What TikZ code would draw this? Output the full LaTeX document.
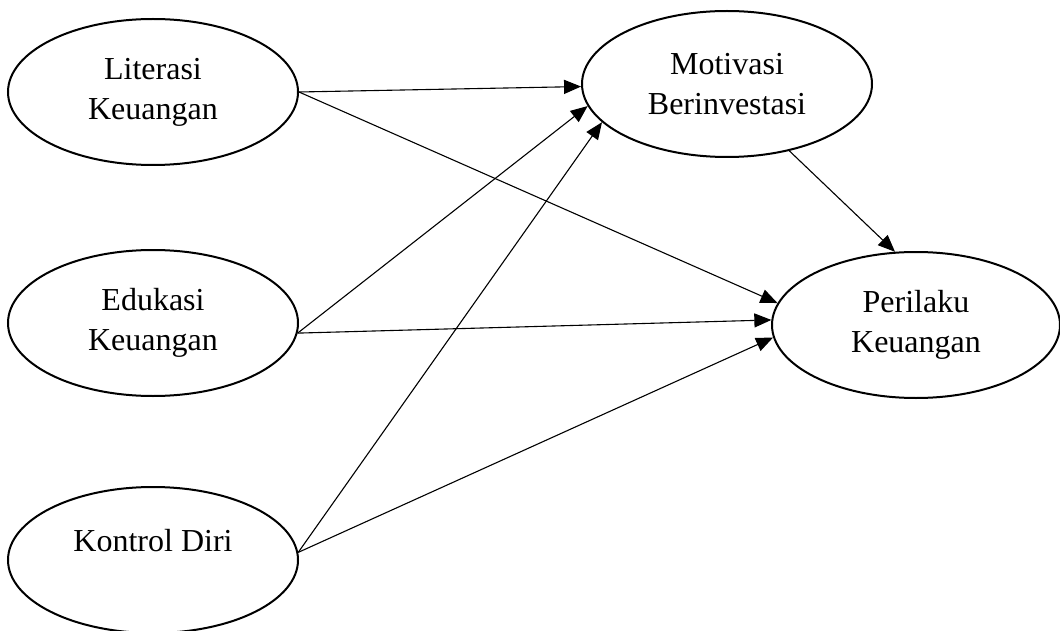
\documentclass[tikz,border=0pt]{standalone}
\usepackage{fontspec}
\setmainfont{Liberation Serif}
\usetikzlibrary{shapes.geometric,arrows.meta}
\begin{document}
\begin{tikzpicture}[x=1pt,y=-1pt,
  var/.style={draw, ellipse, line width=2pt, minimum width=290pt, minimum height=146pt,
    inner sep=0pt, align=center, font=\fontsize{32pt}{40pt}\selectfont},
  link/.style={line width=1.1pt, -{Triangle[length=17pt,width=14pt]}}]
\useasboundingbox (0,0) rectangle (1060,631);
\node[var] (lit) at (153,92) {Literasi\\Keuangan};
\node[var] (edu) at (153,323) {Edukasi\\Keuangan};
\node[var] (kon) at (153,560) {Kontrol Diri\\\mbox{}};
\node[var] (mot) at (727,84) {Motivasi\\Berinvestasi};
\node[var, minimum width=288pt] (per) at (916,325) {Perilaku\\Keuangan};
\draw[link] (lit.east) -- (mot.181);
\draw[link] (edu.-4) -- (mot.189);
\draw[link] (kon.3) -- (mot.197);
\draw[link] (lit.east) -- (per.171);
\draw[link] (edu.-4) -- (per.178);
\draw[link] (kon.3) -- (per.185);
\draw[link] (mot.313) -- (per.106);
\end{tikzpicture}
\end{document}
